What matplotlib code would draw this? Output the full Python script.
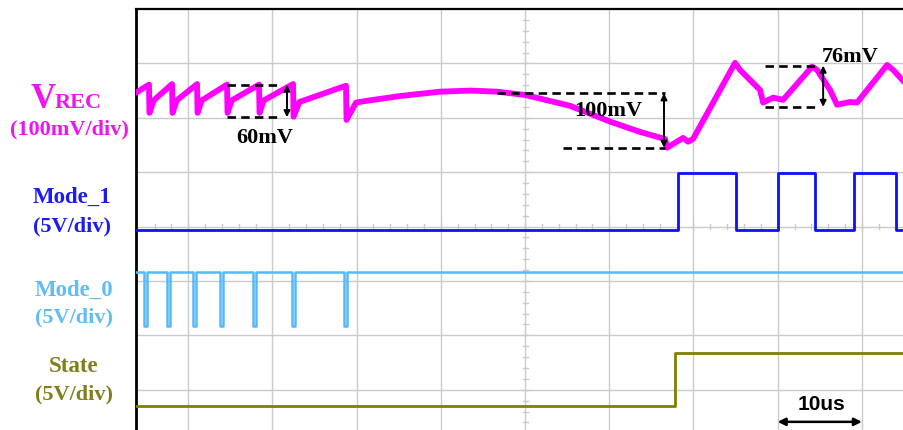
import numpy as np
import matplotlib
matplotlib.use("Agg")
import matplotlib.pyplot as plt

# ---------------------------------------------------------------------------
# Waveform data (time in microseconds, 10 us per horizontal division)
# ---------------------------------------------------------------------------
VREC_T = [3.80, 5.34, 5.40, 5.90, 8.08, 8.14, 8.64, 11.05, 11.11, 11.61,
          14.61, 14.67, 15.17, 18.41, 18.47, 18.97, 22.45, 22.51, 23.20,
          28.74, 28.80, 29.93, 31.10, 35.15, 39.90, 43.50, 46.67, 50.00,
          55.34, 60.10, 63.66, 66.63, 66.87, 67.82, 68.76, 69.36, 69.95,
          74.94, 75.53, 77.91, 78.27, 79.45, 80.64, 84.09, 84.68, 86.22,
          87.05, 88.60, 89.43, 92.99, 93.71, 95.01]
VREC_MV = [46, 61, 9, 32, 62, 9, 32, 62, 9, 32,
           61, 9, 32, 61, 9, 32, 62, 2, 29,
           59, -4, 28, 31, 40, 48, 50, 48, 42,
           22, -7, -26, -39, -55, -46, -37, -44, -39,
           101, 88, 51, 28, 37, 33, 94, 88, 51,
           24, 29, 28, 97, 88, 66]

MODE1_EDGES_US = [68.17, 75.06, 80.05, 84.44, 89.07, 94.06]
MODE1_LEVELS_V = (0.0, 5.2)

MODE0_PULSES_US = [4.75, 7.48, 10.57, 13.78, 17.70, 22.33, 28.50]
MODE0_PULSE_WIDTH_US = 0.35
MODE0_LEVELS_V = (0.0, 5.0)

STATE_EDGE_US = 67.81
STATE_LEVELS_V = (0.0, 4.9)

# ripple annotations: label, span (mV), top level (mV)
RIPPLE_LABELS = ["60mV", "100mV", "76mV"]
RIPPLE_MV = [60, 100, 76]
RIPPLE_TOP_MV = [61, 45, 96]

SCALE_LABEL = "10us"
SCALE_US = 10

# channel settings
VREC_MV_PER_DIV = 100
LOGIC_V_PER_DIV = 5
VREC_ZERO_DIV = 2.0
MODE1_ZERO_DIV = -0.06
MODE0_ZERO_DIV = -1.83
STATE_ZERO_DIV = -3.30

T_MIN, T_MAX = 3.80, 95.0
Y_MIN, Y_MAX = -3.74, 4.0

W, H = 904, 430
fig = plt.figure(figsize=(W / 100, H / 100), dpi=100)
ax = fig.add_axes([136 / W, 0.0, (W - 136) / W, (H - 9) / H])
ax.set_xlim(T_MIN, T_MAX)
ax.set_ylim(Y_MIN, Y_MAX)

# graticule
ax.set_xticks(np.arange(10, 100, 10))
ax.set_yticks(np.arange(-3, 4, 1))
ax.tick_params(length=0, labelbottom=False, labelleft=False)
ax.grid(True, color="#cacaca", lw=1.0, zorder=0)
ax.set_axisbelow(True)
for s in ("right", "bottom"):
    ax.spines[s].set_visible(False)
ax.spines["left"].set_linewidth(2.0)
ax.spines["top"].set_linewidth(1.6)

# minor ticks along the centre lines
for yy in np.arange(-3.6, 4.0, 0.2):
    ax.plot([49.7, 50.3], [yy, yy], color="#cacaca", lw=1.0, zorder=0.5)
for xx in np.arange(6, 95, 2):
    ax.plot([xx, xx], [-0.05, 0.05], color="#cacaca", lw=1.0, zorder=0.5)


def vrec_div(mv):
    return VREC_ZERO_DIV + np.asarray(mv, dtype=float) / VREC_MV_PER_DIV


def logic_div(v, zero):
    return zero + np.asarray(v, dtype=float) / LOGIC_V_PER_DIV


def toggle_wave(edges, levels, t0, t1):
    t, v = [t0], [levels[0]]
    state = 0
    for e in edges:
        t += [e, e]
        v += [levels[state], levels[1 - state]]
        state = 1 - state
    t.append(t1)
    v.append(levels[state])
    return t, v


# Mode_1
t1, v1 = toggle_wave(MODE1_EDGES_US, MODE1_LEVELS_V, T_MIN, T_MAX)
ax.plot(t1, logic_div(v1, MODE1_ZERO_DIV), color="#0a12f5", lw=2.0, zorder=3)

# Mode_0 (idle high, short low pulses)
edges0 = []
for p in MODE0_PULSES_US:
    edges0 += [p, p + MODE0_PULSE_WIDTH_US]
t0, v0 = toggle_wave(edges0, MODE0_LEVELS_V[::-1], T_MIN, T_MAX)
ax.plot(t0, logic_div(v0, MODE0_ZERO_DIV), color="#55b9f8", lw=1.8, zorder=3)

# State
ts, vs = toggle_wave([STATE_EDGE_US], STATE_LEVELS_V, T_MIN, T_MAX)
ax.plot(ts, logic_div(vs, STATE_ZERO_DIV), color="#808000", lw=2.0, zorder=3)

# VREC
ax.plot(VREC_T, vrec_div(VREC_MV), color="#ff00ff", lw=4.2,
        solid_joinstyle="round", solid_capstyle="round", zorder=4)

# ripple annotations
dash = dict(color="black", lw=1.9, ls=(0, (3.2, 2.0)), zorder=5)
arrow = dict(arrowstyle="<|-|>", color="black", lw=1.4,
             mutation_scale=9, shrinkA=0, shrinkB=0)
label_font = dict(family="Liberation Serif", weight="bold", fontsize=16,
                  color="black", ha="center", va="center", zorder=6)

# 60 mV
top, span = RIPPLE_TOP_MV[0], RIPPLE_MV[0]
ax.plot([14.61, 20.78], vrec_div([top, top]), **dash)
ax.plot([14.61, 20.78], vrec_div([top - span, top - span]), **dash)
ax.annotate("", xy=(21.73, vrec_div(top - span)), xytext=(21.73, vrec_div(top)),
            arrowprops=arrow, zorder=6)
ax.text(19.1, vrec_div(-38), RIPPLE_LABELS[0], **label_font)

# 100 mV
top, span = RIPPLE_TOP_MV[1], RIPPLE_MV[1]
ax.plot([46.67, 66.63], vrec_div([top, top]), **dash)
ax.plot([54.5, 66.63], vrec_div([top - span, top - span]), **dash)
ax.annotate("", xy=(66.5, vrec_div(top - span)), xytext=(66.5, vrec_div(top)),
            arrowprops=arrow, zorder=6)
ax.text(59.86, vrec_div(12), RIPPLE_LABELS[1], **label_font)

# 76 mV
top, span = RIPPLE_TOP_MV[2], RIPPLE_MV[2]
ax.plot([78.5, 84.8], vrec_div([top, top]), **dash)
ax.plot([78.5, 84.8], vrec_div([top - span, top - span]), **dash)
ax.annotate("", xy=(85.4, vrec_div(top - span)), xytext=(85.4, vrec_div(top)),
            arrowprops=arrow, zorder=6)
ax.text(88.6, vrec_div(112), RIPPLE_LABELS[2], **label_font)

# time scale bar
ax.annotate("", xy=(85.0 - SCALE_US / 2, -3.59), xytext=(85.0 + SCALE_US / 2, -3.59),
            arrowprops=dict(arrowstyle="<|-|>", color="black", lw=1.8,
                            mutation_scale=11, shrinkA=0, shrinkB=0))
ax.text(85.2, -3.27, SCALE_LABEL, family="Liberation Sans", weight="bold",
        fontsize=15, ha="center", va="center")


# channel labels
def fx(px):
    return px / W


def fy(py):
    return 1 - py / H


serif = dict(family="Liberation Serif", weight="bold")
fig.text(fx(31), fy(108), "V", color="#f014f0", fontsize=25,
         ha="left", va="baseline", **serif)
fig.text(fx(55), fy(108), "REC", color="#f014f0", fontsize=16,
         ha="left", va="baseline", **serif)
fig.text(fx(69), fy(129), "(100mV/div)", color="#f014f0", fontsize=16,
         ha="center", va="center", **serif)

fig.text(fx(72), fy(197), "Mode_1", color="#1c1cf0", fontsize=16.5,
         ha="center", va="center", **serif)
fig.text(fx(72), fy(226), "(5V/div)", color="#1c1cf0", fontsize=16,
         ha="center", va="center", **serif)

fig.text(fx(74), fy(290), "Mode_0", color="#62bdf5", fontsize=16.5,
         ha="center", va="center", **serif)
fig.text(fx(74), fy(317), "(5V/div)", color="#62bdf5", fontsize=16,
         ha="center", va="center", **serif)

fig.text(fx(74), fy(367), "State", color="#807f1c", fontsize=16.5,
         ha="center", va="center", **serif)
fig.text(fx(74), fy(394), "(5V/div)", color="#807f1c", fontsize=16,
         ha="center", va="center", **serif)

fig.savefig("out.png", dpi=100, facecolor="white")
